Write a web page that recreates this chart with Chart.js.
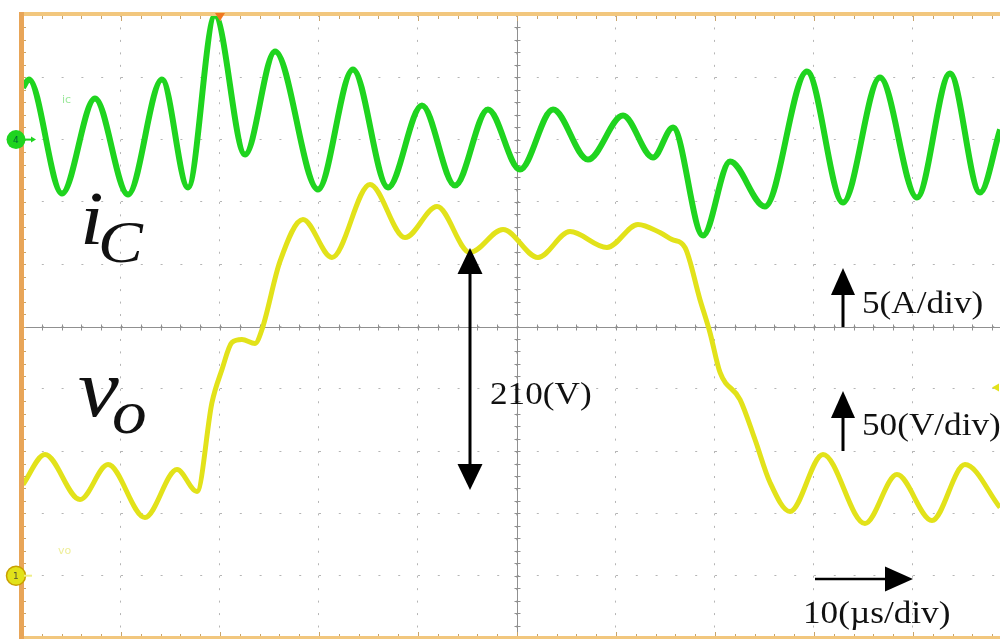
<!DOCTYPE html>
<html><head><meta charset="utf-8">
<script src="https://cdn.jsdelivr.net/npm/chart.js@4.4.1/dist/chart.umd.min.js"></script>
<style>
html,body{margin:0;padding:0;background:#fff;overflow:hidden;}
#wrap{position:relative;width:1000px;height:639px;background:#fff;}
canvas{position:absolute;left:0;top:0;}
.lbl{position:absolute;font-family:"Liberation Serif","Times New Roman",serif;color:#111;white-space:nowrap;line-height:1;transform-origin:0 0;}
.u{font-size:32px;transform:scaleX(1.1);}
.it{font-style:italic;transform:scaleX(1.12);}
.tiny{position:absolute;font-family:"DejaVu Sans",sans-serif;font-size:11px;line-height:1;white-space:nowrap;}
</style></head><body>
<div id="wrap">
<canvas id="c" width="1000" height="639"></canvas>
<div class="lbl it" style="left:80px;top:180px;font-size:76px;">i</div>
<div class="lbl it" style="left:98px;top:212px;font-size:60px;">C</div>
<div class="lbl it" style="left:78px;top:348px;font-size:82px;">v</div>
<div class="lbl it" style="left:112px;top:381px;font-size:62px;">o</div>
<div class="lbl u" style="left:490px;top:377px;">210(V)</div>
<div class="lbl u" style="left:862px;top:286px;">5(A/div)</div>
<div class="lbl u" style="left:862px;top:408px;">50(V/div)</div>
<div class="lbl u" style="left:803px;top:596px;">10(µs/div)</div>
<div class="tiny" style="left:62px;top:94px;color:#9be89b;">ic</div>
<div class="tiny" style="left:58px;top:545px;color:#eeee99;">vo</div>
<div class="tiny" style="left:13px;top:136px;color:#063;font-size:9px;">4</div>
<div class="tiny" style="left:13px;top:572px;color:#553;font-size:9px;">1</div>
</div>
<script>
// ---- data (time in µs, current in A, voltage in V) ----
const timeIc = [0.1, 0.7, 4.04, 7.37, 10.71, 14.14, 16.77, 19.49, 22.53, 25.56, 29.90, 33.43, 36.97, 40.40, 43.74, 47.07, 50.30, 53.64, 57.17, 60.71, 63.74, 65.76, 68.79, 71.52, 75.05, 79.29, 82.93, 86.67, 90.40, 93.74, 96.77, 98.8];
const iC = [4.18, 4.82, -4.33, 3.30, -4.41, 4.82, -3.84, 9.96, -1.20, 7.07, -4.00, 5.63, -3.84, 2.74, -3.68, 2.42, -2.40, 2.42, -1.60, 1.93, -1.44, 0.97, -7.70, -1.76, -5.37, 5.47, -5.05, 4.98, -4.65, 5.30, -4.25, 0.81];
const timeVo = [0.1, 2.32, 5.86, 8.69, 12.42, 15.66, 17.68, 19.19, 20.20, 21.21, 22.22, 23.54, 24.24, 26.06, 28.38, 31.31, 35.15, 38.69, 41.92, 45.25, 48.59, 52.12, 55.35, 59.09, 62.22, 64.44, 65.66, 66.97, 68.48, 69.49, 70.51, 72.53, 74.04, 75.56, 77.58, 80.91, 85.15, 88.38, 91.92, 95.25, 98.79];
const vo = [73.2, 97.3, 61.1, 89.2, 46.7, 85.2, 67.6, 139.0, 165.5, 187.2, 189.6, 186.4, 197.6, 252.2, 285.9, 255.4, 314.0, 271.4, 296.3, 259.4, 277.9, 255.4, 276.2, 263.4, 281.9, 275.4, 269.8, 263.4, 221.7, 195.2, 163.1, 141.4, 109.3, 74.8, 51.5, 97.3, 41.9, 81.2, 44.3, 89.2, 54.7];
// ---- axes / ticks ----
const timeGridTicks = [10, 20, 30, 40, 50, 60, 70, 80, 90];       // 10 µs/div
const currentGridTicks = [-35, -30, -25, -20, -15, -10, -5, 0, 5]; // 5 A/div
const T_MIN = 0, T_MAX = 98.79, T_CENTER = 50;
const I_MIN = -40, I_MAX = 10, I_CENTER = -15;
const V_MIN = -50, V_MAX = 450;
const TRIGGER_T = 20, TRIGGER_V = 151;

const GREEN = '#1fd41f', YELLOW = '#e2e21a';

function line(ctx, x1, y1, x2, y2){ctx.beginPath();ctx.moveTo(x1,y1);ctx.lineTo(x2,y2);ctx.stroke();}
function arrowHead(ctx, tx, ty, dir, len, w){
  ctx.beginPath();
  if(dir==='up'){ctx.moveTo(tx,ty);ctx.lineTo(tx-w/2,ty+len);ctx.lineTo(tx+w/2,ty+len);}
  else if(dir==='down'){ctx.moveTo(tx,ty);ctx.lineTo(tx-w/2,ty-len);ctx.lineTo(tx+w/2,ty-len);}
  else {ctx.moveTo(tx,ty);ctx.lineTo(tx-len,ty-w/2);ctx.lineTo(tx-len,ty+w/2);}
  ctx.closePath();ctx.fill();
}

const scopeDecor = {
  id:'scopeDecor',
  beforeDatasetsDraw(chart){
    const {ctx, chartArea:a, scales} = chart;
    const x = scales.x, yI = scales.yI;
    const cx = Math.round(x.getPixelForValue(T_CENTER))+0.5, cy = Math.round(yI.getPixelForValue(I_CENTER))+0.5;
    ctx.save();
    ctx.strokeStyle = '#909090'; ctx.lineWidth = 1;
    line(ctx, a.left, cy, a.right, cy);
    line(ctx, cx, a.top, cx, a.bottom);
    for(let t = T_MIN; t <= T_MAX; t += 2){const p = Math.round(x.getPixelForValue(t))+0.5; line(ctx, p, cy-3, p, cy+3);}
    for(let v = I_MIN; v <= I_MAX; v += 1){const p = Math.round(yI.getPixelForValue(v))+0.5; line(ctx, cx-3, p, cx+3, p);}
    ctx.restore();
  },
  afterDatasetsDraw(chart){
    const {ctx, chartArea:a, scales} = chart;
    const x = scales.x, yI = scales.yI, yV = scales.yV;
    ctx.save();
    // frame ticks
    ctx.strokeStyle = '#c9a46a'; ctx.lineWidth = 1;
    for(let t = T_MIN; t <= T_MAX; t += 2){
      const p = Math.round(x.getPixelForValue(t))+0.5;
      const L = (Math.round(t) % 10 === 0) ? 6 : 4;
      line(ctx, p, a.top, p, a.top+L);
      line(ctx, p, a.bottom, p, a.bottom-L);
    }
    for(let v = I_MIN; v <= I_MAX; v += 1){
      const p = Math.round(yI.getPixelForValue(v))+0.5;
      line(ctx, a.left, p, a.left+4, p);
    }
    // frame
    ctx.fillStyle = '#f2c77e';
    ctx.fillRect(a.left-2, a.top-3, a.right-a.left+4, 4);
    ctx.fillRect(a.left-2, a.bottom-2, a.right-a.left+4, 4);
    ctx.fillStyle = '#e8a558';
    ctx.fillRect(a.left-3, a.top-3, 5, a.bottom-a.top+5);
    // trigger marker
    const tx = x.getPixelForValue(TRIGGER_T);
    ctx.fillStyle = '#f07820';
    ctx.beginPath(); ctx.moveTo(tx-5, a.top-2); ctx.lineTo(tx+5, a.top-2); ctx.lineTo(tx, a.top+6); ctx.closePath(); ctx.fill();
    // trigger level marker (right)
    const ty = yV.getPixelForValue(TRIGGER_V);
    ctx.fillStyle = YELLOW;
    ctx.beginPath(); ctx.moveTo(a.right-1, ty-4); ctx.lineTo(a.right-1, ty+4); ctx.lineTo(a.right-8, ty); ctx.closePath(); ctx.fill();
    // channel ground markers
    const g4 = yI.getPixelForValue(0), g1 = yV.getPixelForValue(0);
    ctx.fillStyle = GREEN; ctx.beginPath(); ctx.arc(16, g4, 9.5, 0, Math.PI*2); ctx.fill();
    ctx.strokeStyle = GREEN; ctx.lineWidth = 2; line(ctx, 24, g4, 32, g4);
    arrowHead(ctx, 36, g4, 'right', 5, 6);
    ctx.fillStyle = YELLOW; ctx.beginPath(); ctx.arc(16, g1, 9.5, 0, Math.PI*2); ctx.fill();
    ctx.strokeStyle = '#c8a000'; ctx.lineWidth = 1.5; ctx.beginPath(); ctx.arc(16, g1, 9.5, 0, Math.PI*2); ctx.stroke();
    ctx.strokeStyle = '#eeee88'; ctx.lineWidth = 2; line(ctx, 24, g1, 32, g1);
    ctx.restore();
  },
  afterDraw(chart){
    const ctx = chart.ctx;
    ctx.save();
    ctx.strokeStyle = '#000'; ctx.fillStyle = '#000'; ctx.lineWidth = 3;
    // 210 V double arrow
    line(ctx, 470, 270, 470, 468);
    arrowHead(ctx, 470, 248, 'up', 26, 25);
    arrowHead(ctx, 470, 490, 'down', 26, 25);
    // 5 A/div
    line(ctx, 843, 290, 843, 327);
    arrowHead(ctx, 843, 268, 'up', 27, 24);
    // 50 V/div
    line(ctx, 843, 412, 843, 451);
    arrowHead(ctx, 843, 391, 'up', 27, 24);
    // 10 µs/div
    ctx.lineWidth = 2.5;
    line(ctx, 815, 579, 890, 579);
    arrowHead(ctx, 913, 579, 'right', 28, 25);
    ctx.restore();
  }
};

new Chart(document.getElementById('c'), {
  type:'line',
  data:{datasets:[
    {label:'vo', data: timeVo.map((t,k)=>({x:t, y:vo[k]})), yAxisID:'yV', borderColor:YELLOW, borderWidth:5, pointRadius:0, cubicInterpolationMode:'monotone', order:2},
    {label:'iC', data: timeIc.map((t,k)=>({x:t, y:iC[k]})), yAxisID:'yI', borderColor:GREEN, borderWidth:6, pointRadius:0, cubicInterpolationMode:'monotone', order:1}
  ]},
  options:{
    responsive:false, animation:false, devicePixelRatio:1,
    layout:{padding:{left:22, top:15, right:0, bottom:1}},
    plugins:{legend:{display:false}, tooltip:{enabled:false}},
    scales:{
      x:{type:'linear', min:T_MIN, max:T_MAX,
         afterBuildTicks:s=>{s.ticks = timeGridTicks.map(v=>({value:v}));},
         ticks:{display:false}, grid:{color:'#b5b5b5', lineWidth:1, drawTicks:false},
         border:{display:false, dash:[2,10.46]}},
      yI:{type:'linear', position:'left', min:I_MIN, max:I_MAX,
         afterBuildTicks:s=>{s.ticks = currentGridTicks.map(v=>({value:v}));},
         ticks:{display:false}, grid:{color:'#b5b5b5', lineWidth:1, drawTicks:false},
         border:{display:false, dash:[2,17.8]}},
      yV:{type:'linear', display:false, min:V_MIN, max:V_MAX}
    }
  },
  plugins:[scopeDecor]
});
</script>
</body></html>
